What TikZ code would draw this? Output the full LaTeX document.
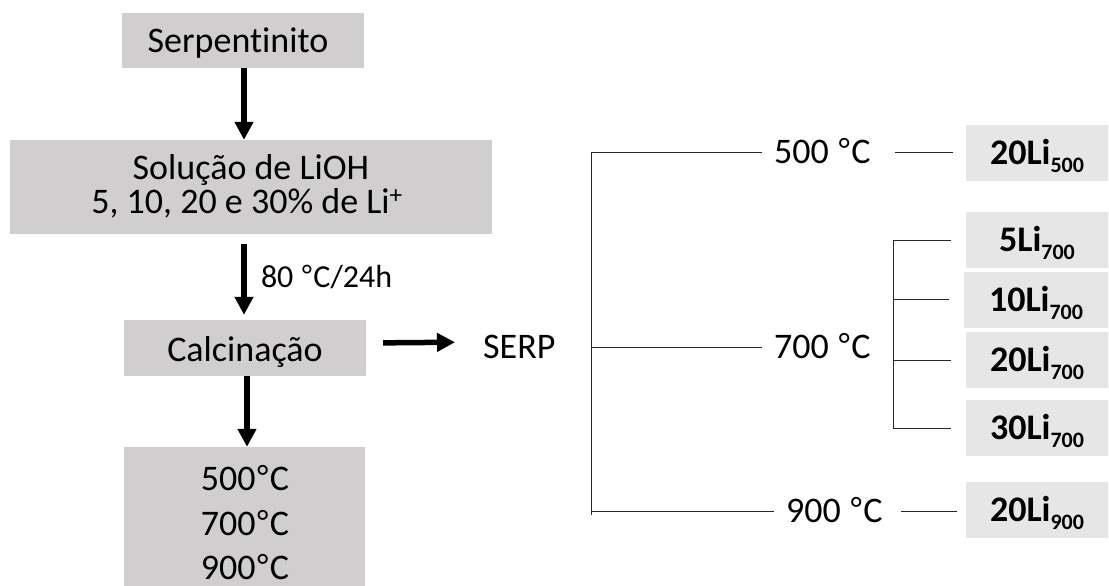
\documentclass[tikz,border=0pt]{standalone}
\usepackage{fontspec}
\setmainfont[Ligatures=NoCommon]{Carlito}
\newfontfamily\degfont{Liberation Sans}
\usetikzlibrary{arrows.meta}
\definecolor{lgray}{HTML}{D0CECE}
\definecolor{rgray}{HTML}{E7E6E6}
\newcommand{\fsmain}{\fontsize{36}{43}\selectfont}
\newcommand{\fslab}{\fontsize{32}{38}\selectfont}
\newcommand{\dg}{{\degfont °}}
\newcommand{\lisub}[1]{\raisebox{-8pt}{\fontsize{22}{22}\selectfont #1}}
\begin{document}
\begin{tikzpicture}[x=1pt,y=-1pt,
  lbox/.style={fill=lgray,draw=none,inner sep=0pt},
  rbox/.style={fill=rgray,draw=none,inner sep=0pt,minimum width=142pt,minimum height=56pt,
     font=\fsmain\bfseries,text height=23pt,text depth=0pt},
  txt/.style={inner sep=0pt,font=\fsmain,anchor=base,text height=24pt,text depth=0pt},
  lab/.style={inner sep=0pt,font=\fsmain,text height=23pt,text depth=0pt},
  bigarrow/.style={line width=6pt,-{Triangle[length=18pt,width=18pt]}},
  tree/.style={line width=0.9pt,draw=black!85}]
\useasboundingbox (0,0) rectangle (1109,586);
% left column boxes
\node[lbox,minimum width=242pt,minimum height=55pt] (serp) at (243,40.5) {};
\node[txt] (serpt) at (238,53) {Serpent\kern0pt inito};
\node[lbox,minimum width=482pt,minimum height=94pt] (sol) at (251,187) {};
\node[txt] (sol1) at (251,179) {Solução de LiOH};
\node[txt] (sol2) at (247,213) {5, 10, 20 e 30\% de Li\textsuperscript{+}};
\node[lbox,minimum width=242pt,minimum height=56pt] (calc) at (245,348) {};
\node[txt] (calct) at (245,361) {Calcinação};
\node[lbox,minimum width=241pt,minimum height=150pt] (temps) at (244.5,522) {};
\node[txt] (t1) at (245,490) {500\dg C};
\node[txt] (t2) at (245,535) {700\dg C};
\node[txt] (t3) at (245,579) {900\dg C};
% arrows
\draw[bigarrow] (serp.south -| 244,0) -- (sol.north -| 244,0);
\draw[bigarrow,shorten <=10pt,shorten >=5pt] (sol.south -| 244,0) -- (calc.north -| 244,0)
  node[pos=0.5,right=14pt,inner sep=0pt,font=\fslab,text height=20pt,text depth=0pt] (cond) {80 \dg C/24h};
\draw[bigarrow] (calc.south -| 247,0) -- (temps.north -| 247,0);
% SERP
\node[lab,anchor=west] (serpn) at (483,347) {SERP};
\draw[bigarrow,line width=5.5pt,shorten <=17pt,shorten >=28pt] ([yshift=5pt]calc.east) -- ([yshift=5pt]serpn.west);
% temperature labels
\node[lab,anchor=west] (l500) at (774,152) {500 \dg C};
\node[lab,anchor=west] (l700) at (774,347) {700 \dg C};
\node[lab,anchor=west] (l900) at (786,511) {900 \dg C};
% right boxes
\node[rbox] (b500) at (1037,153) {20Li\lisub{500}};
\node[rbox] (b5) at (1037,240) {5Li\lisub{700}};
\node[rbox,minimum width=144pt] (b10) at (1036,299.5) {10Li\lisub{700}};
\node[rbox] (b20) at (1037,360) {20Li\lisub{700}};
\node[rbox] (b30) at (1037,428) {30Li\lisub{700}};
\node[rbox] (b900) at (1037,510) {20Li\lisub{900}};
% tree
\coordinate (trunk) at (591,0);
\coordinate (sub) at (893,0);
\draw[tree] (trunk |- l500.west) -- ([yshift=-4pt]trunk |- l900.west);
\foreach \n in {l500,l700,l900}
  \draw[tree,shorten >=12pt] (trunk |- \n.west) -- (\n.west);
\draw[tree,shorten <=24pt,shorten >=13pt] (l500.east) -- (l500.east -| b500.west);
\draw[tree,shorten <=18pt,shorten >=9pt] (l900.east) -- (l900.east -| b900.west);
\draw[tree] (sub |- b5.west) -- (sub |- b30.west);
\foreach \n in {b5,b10,b20,b30}
  \draw[tree,shorten >=15pt] (sub |- \n.west) -- (\n.west);
\end{tikzpicture}
\end{document}
